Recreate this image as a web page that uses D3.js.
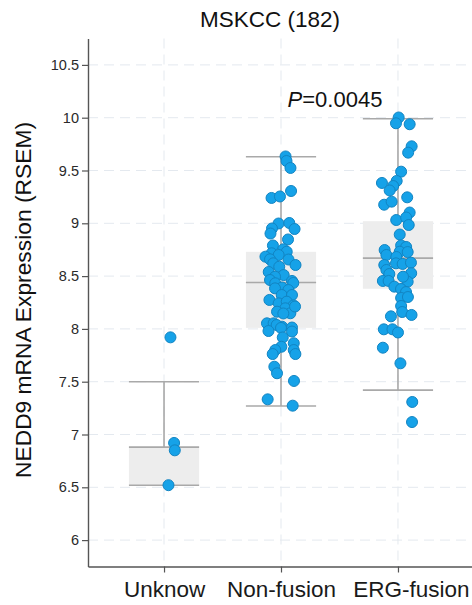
<!DOCTYPE html>
<html>
<head>
<meta charset="utf-8">
<script src="https://cdn.jsdelivr.net/npm/d3@7"></script>
<style>
  html, body { margin: 0; padding: 0; background: #fff; }
  svg { display: block; font-family: "Liberation Sans", Arial, Helvetica, sans-serif; }
</style>
</head>
<body>
<svg id="chart" width="472" height="605"></svg>
<script>
// ---------------- DATA ----------------
const title = "MSKCC (182)";
const yLabel = "NEDD9 mRNA Expression (RSEM)";
const pLabelItalic = "P";
const pLabelRest = "=0.0045";
const categories = ["Unknow", "Non-fusion", "ERG-fusion"];
const yTickValues = [6, 6.5, 7, 7.5, 8, 8.5, 9, 9.5, 10, 10.5];

// box statistics per category
const whiskerLow  = [6.52, 7.27, 7.42];
const q1          = [6.52, 8.01, 8.38];
const median      = [6.88, 8.44, 8.67];
const q3          = [6.88, 8.73, 9.02];
const whiskerHigh = [7.50, 9.63, 9.99];

// points: values and horizontal jitter (fraction of category step)
const unknowValues = [7.92, 6.92, 6.85, 6.52];
const unknowJitter = [0.055, 0.086, 0.092, 0.038];

const nonFusionValues = [9.633, 9.590, 9.524, 9.240, 9.254, 9.306, 8.998, 9.003, 8.951, 8.946,
  8.903, 8.847, 8.790, 8.754, 8.731, 8.716, 8.684, 8.700, 8.657, 8.659,
  8.605, 8.621, 8.589, 8.539, 8.510, 8.494, 8.454, 8.463, 8.432, 8.435,
  8.392, 8.384, 8.368, 8.321, 8.321, 8.274, 8.242, 8.258, 8.222, 8.195,
  8.163, 8.148, 8.146, 8.212, 8.053, 8.053, 8.021, 8.013, 8.037, 7.980,
  8.009, 7.975, 7.919, 7.864, 7.831, 7.800, 7.800, 7.762, 7.762, 7.642,
  7.580, 7.507, 7.333, 7.273];
const nonFusionJitter = [0.039, 0.047, 0.081, -0.081, -0.009, 0.086, -0.021, 0.071, -0.077, 0.116,
  -0.090, 0.060, -0.069, 0.020, 0.049, -0.080, -0.133, -0.020, 0.064, -0.094,
  0.124, -0.066, -0.015, -0.105, 0.023, -0.051, 0.094, -0.094, -0.049, 0.105,
  0.009, -0.051, 0.063, 0.006, 0.094, -0.099, -0.020, 0.049, 0.107, 0.037,
  -0.034, 0.080, 0.020, 0.120, -0.120, -0.063, 0.009, 0.094, -0.037, -0.107,
  0.000, 0.094, 0.015, 0.109, 0.003, -0.049, 0.109, -0.071, 0.123, -0.057,
  -0.034, 0.111, -0.114, 0.100];

const ergValues = [10.002, 9.947, 9.938, 9.729, 9.669, 9.489, 9.382, 9.401, 9.353, 9.311,
  9.246, 9.176, 9.205, 9.102, 9.031, 9.055, 8.984, 8.894, 8.790, 8.776,
  8.747, 8.700, 8.731, 8.728, 8.681, 8.621, 8.605, 8.615, 8.627, 8.558,
  8.520, 8.527, 8.454, 8.454, 8.447, 8.494, 8.400, 8.378, 8.349, 8.293,
  8.302, 8.217, 8.160, 8.132, 8.119, 7.996, 7.996, 7.966, 7.822, 7.674,
  7.308, 7.118];
const ergJitter = [0.006, -0.017, 0.100, 0.117, 0.087, 0.027, -0.137, -0.011, -0.041, -0.071,
  0.079, -0.118, -0.054, 0.100, -0.015, 0.070, 0.092, 0.015, 0.027, 0.070,
  -0.114, -0.099, 0.015, 0.083, -0.014, -0.017, -0.117, 0.040, 0.111, -0.099,
  -0.074, 0.113, -0.129, -0.080, 0.083, 0.043, -0.031, 0.026, 0.069, 0.027,
  0.085, 0.027, 0.036, 0.116, -0.060, -0.121, -0.047, 0.000, -0.129, 0.021,
  0.122, 0.120];

const pointValues = [unknowValues, nonFusionValues, ergValues];
const pointJitter = [unknowJitter, nonFusionJitter, ergJitter];

// ---------------- CHART ----------------
(function () {
const svg = d3.select("#chart");
const W = 472;
const mLeft = 88, mTop = 38.5, mBottom = 566.5;

const x = d3.scalePoint().domain(categories).range([mLeft, 474]).padding(0.65);
const y = d3.scaleLinear().domain([5.75, 10.75]).range([mBottom, mTop]);
const step = x.step();
const boxW = step * 0.6;

// grid
const grid = svg.append("g");
grid.selectAll("line.h").data(yTickValues).join("line").attr("class", "h")
  .attr("x1", mLeft).attr("x2", W)
  .attr("y1", d => y(d)).attr("y2", d => y(d))
  .attr("stroke", "#e4e9ef").attr("stroke-width", 1).attr("stroke-dasharray", "10,6");
grid.selectAll("line.v").data(categories).join("line").attr("class", "v")
  .attr("x1", d => x(d)).attr("x2", d => x(d))
  .attr("y1", mTop).attr("y2", mBottom)
  .attr("stroke", "#e4e9ef").attr("stroke-width", 1).attr("stroke-dasharray", "10,6");

// boxes
const boxData = categories.map((c, i) => ({c, lo: whiskerLow[i], q1: q1[i], med: median[i], q3: q3[i], hi: whiskerHigh[i]}));
const bx = svg.append("g");
const lineCol = "#a9a9a9";
bx.selectAll("line.wh").data(boxData).join("line").attr("class", "wh")
  .attr("x1", d => x(d.c)).attr("x2", d => x(d.c))
  .attr("y1", d => y(d.lo)).attr("y2", d => y(d.hi))
  .attr("stroke", lineCol).attr("stroke-width", 1.6);
bx.selectAll("rect").data(boxData).join("rect")
  .attr("x", d => x(d.c) - boxW / 2).attr("width", boxW)
  .attr("y", d => y(d.q3)).attr("height", d => y(d.q1) - y(d.q3))
  .attr("fill", "#ededed");
["lo", "hi", "med"].forEach(k => {
  bx.selectAll("line.c" + k).data(boxData).join("line").attr("class", "c" + k)
    .attr("x1", d => x(d.c) - boxW / 2).attr("x2", d => x(d.c) + boxW / 2)
    .attr("y1", d => y(d[k])).attr("y2", d => y(d[k]))
    .attr("stroke", lineCol).attr("stroke-width", 1.6);
});

// points
const pts = [];
categories.forEach((c, i) => {
  pointValues[i].forEach((v, j) => pts.push({c, v, j: pointJitter[i][j]}));
});
svg.append("g").selectAll("circle").data(pts).join("circle")
  .attr("cx", d => x(d.c) + d.j * step)
  .attr("cy", d => y(d.v))
  .attr("r", 5.5)
  .attr("fill", "#16a2e8")
  .attr("stroke", "#1284c2")
  .attr("stroke-width", 1);

// axes
const yAxis = svg.append("g").attr("transform", `translate(${mLeft},0)`)
  .call(d3.axisLeft(y).tickValues(yTickValues).tickFormat(d3.format("~g")).tickSize(6).tickPadding(3).tickSizeOuter(0));
yAxis.select(".domain").attr("stroke", "#555").attr("stroke-width", 1.4);
yAxis.selectAll(".tick line").attr("stroke", "#555").attr("stroke-width", 1.2);
yAxis.selectAll(".tick text").attr("font-size", 14.5).attr("fill", "#2a2a2a")
  .attr("font-family", "'Liberation Sans', Arial, sans-serif");

const xAxis = svg.append("g").attr("transform", `translate(0,${mBottom})`)
  .call(d3.axisBottom(x).tickSize(6).tickPadding(9).tickSizeOuter(0));
xAxis.select(".domain").attr("stroke", "#555").attr("stroke-width", 1.4);
xAxis.selectAll(".tick line").attr("stroke", "#555").attr("stroke-width", 1.2);
xAxis.selectAll(".tick text").attr("font-size", 22.5).attr("fill", "#1a1a1a")
  .attr("font-family", "'Liberation Sans', Arial, sans-serif")
  .attr("dx", (d, i) => i === categories.length - 1 ? 13 : 0);

// title
svg.append("text").attr("x", 270).attr("y", 27).attr("text-anchor", "middle")
  .attr("font-size", 22.5).attr("fill", "#111").text(title);

// y label
svg.append("text").attr("transform", "translate(31,300) rotate(-90)")
  .attr("text-anchor", "middle").attr("font-size", 22.8).attr("fill", "#111").text(yLabel);

// p value
const pt = svg.append("text").attr("x", 335).attr("y", 107).attr("text-anchor", "middle")
  .attr("font-size", 22).attr("fill", "#111");
pt.append("tspan").attr("font-style", "italic").text(pLabelItalic);
pt.append("tspan").text(pLabelRest);
})();
</script>
</body>
</html>
